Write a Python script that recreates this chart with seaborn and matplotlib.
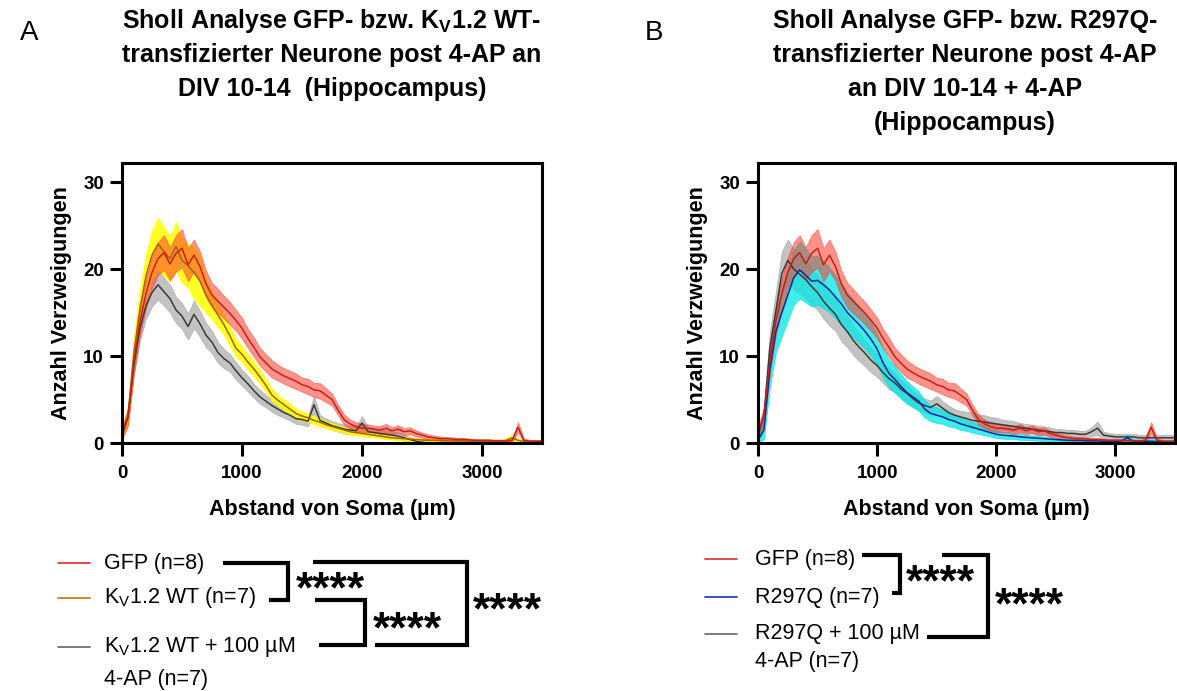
import numpy as np
import pandas as pd
import matplotlib
matplotlib.use("Agg")
import matplotlib.pyplot as plt
import seaborn as sns

# Sholl radius (µm), 50 µm steps
radius = list(range(0, 3501, 50))

# panel A + B: GFP control (n=8)
gfp_mean = [1.2, 3.0, 9.5, 14.0, 17.2, 19.6, 21.2, 21.9, 20.6, 21.8,
            22.4, 20.5, 21.6, 20.3, 18.3, 17.0, 16.3, 15.6, 14.9, 14.1,
            13.2, 12.0, 11.0, 9.9, 9.2, 8.5, 8.1, 7.7, 7.4, 7.1,
            6.7, 6.5, 6.1, 6.0, 5.5, 5.0, 3.8, 2.7, 2.2, 1.9,
            1.7, 1.7, 1.6, 1.5, 1.7, 1.4, 1.6, 1.3, 1.4, 1.1,
            0.9, 0.7, 0.6, 0.5, 0.5, 0.45, 0.4, 0.4, 0.35, 0.3,
            0.3, 0.3, 0.25, 0.25, 0.2, 0.3, 1.8, 0.3, 0.2, 0.2, 0.2]
gfp_sem = [0.7, 1.0, 1.4, 1.6, 1.7, 1.8, 1.9, 2.0, 1.9, 2.1,
           2.2, 1.9, 1.8, 1.7, 1.5, 1.4, 1.4, 1.3, 1.3, 1.2,
           1.2, 1.1, 1.1, 1.0, 1.0, 1.0, 0.9, 0.9, 0.9, 0.9,
           0.8, 0.9, 0.8, 0.9, 0.8, 0.7, 0.6, 0.6, 0.5, 0.5,
           0.45, 0.45, 0.4, 0.45, 0.5, 0.4, 0.45, 0.4, 0.4, 0.35,
           0.3, 0.3, 0.25, 0.25, 0.2, 0.2, 0.2, 0.2, 0.15, 0.15,
           0.15, 0.15, 0.15, 0.15, 0.15, 0.2, 0.6, 0.2, 0.15, 0.15, 0.15]

# panel A: Kv1.2 WT (n=7)
kv_mean = [1.0, 3.2, 10.5, 15.5, 19.2, 21.6, 22.9, 22.0, 21.2, 22.6,
           21.0, 20.4, 19.6, 18.6, 17.0, 15.8, 14.7, 13.6, 12.3, 10.9,
           10.2, 9.3, 8.5, 7.6, 6.6, 5.5, 4.9, 4.4, 3.9, 3.4,
           3.1, 2.9, 2.6, 2.4, 2.1, 1.9, 1.7, 1.5, 1.3, 1.2,
           1.1, 1.0, 0.9, 0.8, 0.7, 0.6, 0.55, 0.5, 0.45, 0.4,
           0.35, 0.3, 0.3, 0.3, 0.25, 0.25, 0.25, 0.25, 0.2, 0.2,
           0.2, 0.2, 0.2, 0.2, 0.3, 0.6, 0.3, 0.2, 0.2, 0.2, 0.2]
kv_sem = [0.5, 1.0, 1.8, 2.2, 2.5, 2.8, 3.0, 2.8, 2.6, 2.8,
          2.6, 2.5, 3.0, 2.8, 2.0, 1.6, 1.4, 1.2, 1.1, 1.0,
          0.9, 0.9, 0.8, 0.8, 0.7, 0.7, 0.6, 0.6, 0.6, 0.55,
          0.5, 0.5, 0.45, 0.45, 0.4, 0.4, 0.35, 0.35, 0.3, 0.3,
          0.3, 0.3, 0.25, 0.25, 0.25, 0.2, 0.2, 0.2, 0.2, 0.2,
          0.15, 0.15, 0.15, 0.15, 0.15, 0.15, 0.15, 0.15, 0.15, 0.15,
          0.15, 0.15, 0.15, 0.15, 0.2, 0.4, 0.15, 0.15, 0.15, 0.15, 0.15]

# panel A: Kv1.2 WT + 100 µM 4-AP (n=7)
kv_ap_mean = [0.8, 3.0, 9.0, 13.2, 15.8, 17.3, 18.2, 17.4, 16.6, 15.3,
              14.6, 13.4, 14.8, 13.7, 12.4, 11.6, 10.4, 9.7, 9.2, 8.3,
              7.5, 6.8, 6.0, 5.3, 4.8, 4.3, 3.9, 3.5, 3.2, 2.8,
              2.7, 2.5, 4.4, 2.6, 2.3, 2.0, 1.8, 1.6, 1.5, 1.4,
              2.3, 1.3, 1.2, 1.1, 1.0, 0.9, 0.8, 0.6, 0.4, 0.2,
              0.1, 0, 0, 0, 0, 0, 0, 0, 0, 0,
              0, 0, 0, 0, 0, 0, 0, 0, 0, 0, 0]
kv_ap_sem = [0.5, 0.8, 1.2, 1.4, 1.5, 1.6, 1.7, 1.6, 1.6, 1.5,
             1.5, 1.5, 1.6, 1.5, 1.4, 1.3, 1.2, 1.1, 1.0, 1.0,
             0.9, 0.9, 0.8, 0.8, 0.7, 0.7, 0.7, 0.6, 0.6, 0.6,
             0.6, 0.6, 1.0, 0.6, 0.5, 0.5, 0.5, 0.5, 0.5, 0.5,
             0.8, 0.5, 0.5, 0.5, 0.5, 0.45, 0.4, 0.35, 0.3, 0.2,
             0.1, 0, 0, 0, 0, 0, 0, 0, 0, 0,
             0, 0, 0, 0, 0, 0, 0, 0, 0, 0, 0]

# panel B: R297Q (n=7)
r297q_mean = [0.3, 1.5, 8.5, 12.8, 15.0, 17.0, 19.0, 19.9, 19.3, 18.6,
              18.7, 18.2, 17.6, 16.8, 16.0, 15.0, 14.3, 13.6, 12.8, 11.9,
              10.8, 9.2, 8.0, 7.3, 6.5, 5.8, 5.3, 4.8, 3.9, 3.4,
              3.2, 3.0, 2.7, 2.5, 2.2, 2.0, 1.8, 1.6, 1.4, 1.2,
              1.0, 0.9, 0.85, 0.8, 0.7, 0.65, 0.6, 0.55, 0.5, 0.45,
              0.4, 0.35, 0.3, 0.3, 0.3, 0.25, 0.25, 0.25, 0.2, 0.2,
              0.2, 0.2, 0.6, 0.2, 0.2, 0.2, 0.2, 0.15, 0.15, 0.15, 0.15]
r297q_sem = [0.5, 1.0, 2.0, 2.4, 2.7, 2.9, 3.1, 3.3, 3.1, 2.9,
             2.8, 2.7, 2.6, 2.5, 2.4, 2.3, 2.2, 2.1, 2.0, 1.9,
             1.8, 1.7, 1.6, 1.5, 1.4, 1.3, 1.2, 1.1, 1.0, 0.9,
             0.9, 0.8, 0.8, 0.7, 0.7, 0.6, 0.6, 0.55, 0.5, 0.45,
             0.45, 0.4, 0.4, 0.35, 0.35, 0.3, 0.3, 0.3, 0.25, 0.25,
             0.2, 0.2, 0.2, 0.2, 0.2, 0.2, 0.2, 0.2, 0.2, 0.2,
             0.2, 0.2, 0.4, 0.2, 0.2, 0.2, 0.2, 0.2, 0.2, 0.2, 0.2]

# panel B: R297Q + 100 µM 4-AP (n=7)
r297q_ap_mean = [0.8, 3.2, 11.0, 15.2, 19.5, 21.0, 20.0, 19.4, 18.8, 18.0,
                 17.3, 16.3, 15.5, 14.8, 13.6, 12.8, 11.8, 11.0, 10.3, 9.5,
                 8.9, 8.1, 7.4, 6.9, 6.2, 5.7, 5.1, 4.6, 4.3, 4.1,
                 4.5, 4.0, 3.5, 3.2, 3.0, 2.8, 2.6, 2.5, 2.4, 2.3,
                 2.2, 2.1, 2.0, 1.9, 1.8, 1.7, 1.6, 1.5, 1.4, 1.3,
                 1.2, 1.2, 1.1, 1.1, 1.0, 1.0, 1.3, 1.7, 0.9, 0.8,
                 0.7, 0.7, 0.7, 0.7, 0.6, 0.6, 0.6, 0.6, 0.6, 0.6, 0.6]
r297q_ap_sem = [0.5, 1.0, 1.8, 2.2, 2.5, 2.4, 2.3, 2.2, 2.2, 2.1,
                2.0, 2.0, 2.0, 1.9, 1.9, 1.8, 1.7, 1.6, 1.5, 1.4,
                1.3, 1.2, 1.2, 1.1, 1.0, 1.0, 0.9, 0.9, 0.8, 0.8,
                0.9, 0.8, 0.8, 0.7, 0.7, 0.8, 0.9, 0.8, 0.8, 0.7,
                0.7, 0.6, 0.6, 0.6, 0.5, 0.5, 0.5, 0.5, 0.5, 0.5,
                0.4, 0.4, 0.4, 0.4, 0.4, 0.4, 0.5, 0.8, 0.4, 0.35,
                0.35, 0.35, 0.35, 0.35, 0.35, 0.35, 0.35, 0.35, 0.35, 0.35, 0.35]

x_ticks = [0, 1000, 2000, 3000]
y_ticks = [0, 10, 20, 30]

title_a = [r"Sholl Analyse GFP- bzw. K$_\mathbf{V}$1.2 WT-",
           "transfizierter Neurone post 4-AP an",
           "DIV 10-14  (Hippocampus)"]
title_b = ["Sholl Analyse GFP- bzw. R297Q-",
           "transfizierter Neurone post 4-AP",
           "an DIV 10-14 + 4-AP",
           "(Hippocampus)"]
legend_a = ["GFP (n=8)", r"K$_\mathrm{V}$1.2 WT (n=7)",
            r"K$_\mathrm{V}$1.2 WT + 100 µM", "4-AP (n=7)"]
legend_b = ["GFP (n=8)", "R297Q (n=7)", "R297Q + 100 µM", "4-AP (n=7)"]
stars = "****"

sns.set_theme(style="ticks")
plt.rcParams['font.family'] = ['Liberation Sans', 'DejaVu Sans']
plt.rcParams['mathtext.fontset'] = 'custom'
plt.rcParams['mathtext.rm'] = 'Liberation Sans'
plt.rcParams['mathtext.bf'] = 'Liberation Sans:bold'
plt.rcParams['mathtext.it'] = 'Liberation Sans:italic'
for key in ['text.color', 'axes.labelcolor', 'xtick.color', 'ytick.color', 'axes.edgecolor']:
    plt.rcParams[key] = 'black'

df = pd.DataFrame({'radius': radius,
                   'gfp': gfp_mean, 'gfp_sem': gfp_sem,
                   'kv': kv_mean, 'kv_sem': kv_sem,
                   'kv_ap': kv_ap_mean, 'kv_ap_sem': kv_ap_sem,
                   'r297q': r297q_mean, 'r297q_sem': r297q_sem,
                   'r297q_ap': r297q_ap_mean, 'r297q_ap_sem': r297q_ap_sem})

fig = plt.figure(figsize=(11.77, 6.91), dpi=100)
ax_a = fig.add_axes([0.10365, 0.3589, 0.35684, 0.40521])
ax_b = fig.add_axes([0.64401, 0.3589, 0.35429, 0.40521])


def band(ax, col, line_color, fill_color, alpha):
    lo = df[col] - df[col + '_sem']
    hi = df[col] + df[col + '_sem']
    ax.fill_between(df['radius'], lo, hi, color=fill_color, alpha=alpha, lw=0.6)
    sns.lineplot(data=df, x='radius', y=col, ax=ax, color=line_color, lw=1.1)


# A: gray, yellow, red on top
band(ax_a, 'kv_ap', '#3a3a3a', '#9c9c9c', 0.6)
band(ax_a, 'kv', '#a8600c', '#ffff00', 0.85)
band(ax_a, 'gfp', '#c4201a', '#ff3b2a', 0.55)

# B: gray, cyan, red on top
band(ax_b, 'r297q_ap', '#3a3a3a', '#9c9c9c', 0.6)
band(ax_b, 'r297q', '#15279c', '#00e6e6', 0.75)
band(ax_b, 'gfp', '#c4201a', '#ff3b2a', 0.55)

for ax in (ax_a, ax_b):
    ax.set_xlim(0, 3500)
    ax.set_ylim(0, 32.2)
    ax.set_xticks(x_ticks)
    ax.set_yticks(y_ticks)
    for s in ax.spines.values():
        s.set_linewidth(2.2)
        s.set_color('black')
    ax.tick_params(length=9, width=2.2, color='black', labelcolor='black', labelsize=13.5, pad=4)
    ax.tick_params(axis='x', pad=7)
    for lab in ax.get_xticklabels() + ax.get_yticklabels():
        lab.set_fontweight('bold')
    ax.set_xlabel('Abstand von Soma (µm)', fontsize=15.5, fontweight='bold', labelpad=12)
    ax.set_ylabel('Anzahl Verzweigungen', fontsize=15.5, fontweight='bold', labelpad=8)
    ax.set_facecolor('white')

# overlay in pixel coordinates for titles, legend and significance brackets
ov = fig.add_axes([0, 0, 1, 1], facecolor='none')
ov.set_xlim(0, 1177)
ov.set_ylim(691, 0)
ov.axis('off')

ov.text(20, 33, 'A', fontsize=20, ha='left', va='center')
ov.text(645, 33, 'B', fontsize=20, ha='left', va='center')

for i, line in enumerate(title_a):
    ov.text(332, 21 + 34 * i, line, fontsize=18, fontweight='bold', ha='center', va='center')
for i, line in enumerate(title_b):
    ov.text(965, 21 + 34 * i, line, fontsize=18, fontweight='bold', ha='center', va='center')

# legend A
rows_a = [563, 598, 647, 680]
dash_a = ['#e03a3a', '#c8801e', '#707070']
for i, c in enumerate(dash_a):
    ov.plot([58, 90], [rows_a[i], rows_a[i]], color=c, lw=1.3)
for i, t in enumerate(legend_a):
    ov.text(104, rows_a[i], t, fontsize=15.5, ha='left', va='center')

# legend B
rows_b = [559, 597, 634, 662]
dash_b = ['#e03a3a', '#2244bb', '#707070']
for i, c in enumerate(dash_b):
    ov.plot([705, 737], [rows_b[i], rows_b[i]], color=c, lw=1.3)
for i, t in enumerate(legend_b):
    ov.text(755, rows_b[i], t, fontsize=15.5, ha='left', va='center')

bk = dict(color='black', lw=3.0, solid_joinstyle='miter', solid_capstyle='butt')


def bracket(x_top, x_bot, xv, y_top, y_bot):
    ov.plot([x_top, xv, xv, x_bot], [y_top, y_top, y_bot, y_bot], **bk)


def star(x, y):
    ov.text(x, y + 20, stars, fontsize=32, fontweight='bold', ha='left', va='baseline')


bracket(223, 269, 288, 563, 600)
star(296, 582)
bracket(315, 319, 365, 600, 645)
star(373, 622)
bracket(313, 375, 467, 562, 645)
star(473, 603)

bracket(862, 892, 900, 555, 593)
star(906, 575)
bracket(942, 927, 988, 555, 637)
star(995, 598)

fig.savefig('out.png', dpi=100)
